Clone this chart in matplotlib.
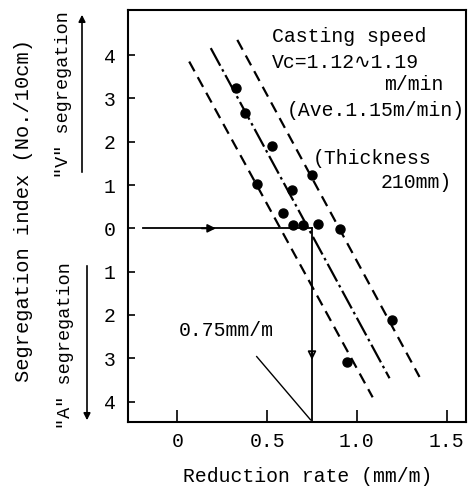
import matplotlib
matplotlib.use("Agg")
import matplotlib.pyplot as plt

# data points (reduction rate, segregation index; positive = "V", negative = "A")
rate = [0.325, 0.377, 0.525, 0.442, 0.636, 0.749, 0.588, 0.645, 0.699, 0.784, 0.908, 1.195, 0.947]
seg = [3.23, 2.66, 1.90, 1.02, 0.88, 1.23, 0.35, 0.08, 0.08, 0.11, -0.02, -2.12, -3.08]

# band lines (endpoints)
lower_x = [0.066, 1.088]
lower_y = [3.85, -3.90]
mid_x = [0.186, 1.182]
mid_y = [4.16, -3.46]
upper_x = [0.334, 1.349]
upper_y = [4.35, -3.43]

critical_rate = 0.75
x_ticks = [0, 0.5, 1.0, 1.5]
x_ticklabels = ["0", "0.5", "1.0", "1.5"]
y_ticks = [4, 3, 2, 1, 0, -1, -2, -3, -4]
y_ticklabels = ["4", "3", "2", "1", "0", "1", "2", "3", "4"]

W, H = 468, 486
fig = plt.figure(figsize=(W / 100, H / 100), dpi=100)
FONT = ["Liberation Mono", "DejaVu Sans Mono", "DejaVu Sans"]
FS = 14.2

x0, x1 = -0.275, 1.608
y0, y1 = -4.47, 5.04
ax = fig.add_axes([128 / W, 1 - 422 / H, (466 - 128) / W, (422 - 10) / H])
ax.set_xlim(x0, x1)
ax.set_ylim(y0, y1)

for s in ax.spines.values():
    s.set_linewidth(1.5)

ax.set_xticks(x_ticks)
ax.set_xticklabels(x_ticklabels, family=FONT, fontsize=FS)
ax.set_yticks(y_ticks)
ax.set_yticklabels(y_ticklabels, family=FONT, fontsize=FS)
ax.tick_params(axis="x", direction="in", length=9, width=1.2, pad=7, top=False)
ax.tick_params(axis="y", direction="in", length=5, width=1.2, pad=9, right=False)

# band lines
ax.plot(lower_x, lower_y, color="black", lw=1.6, dashes=(5, 3))
ax.plot(upper_x, upper_y, color="black", lw=1.6, dashes=(5, 3))
ax.plot(mid_x, mid_y, color="black", lw=1.6, dashes=(9, 1.8, 1.2, 1.8))

# points
ax.plot(rate, seg, "o", color="black", ms=6.5, zorder=5)

# guide arrows
ax.plot([-0.193, critical_rate], [0, 0], color="black", lw=1.3)
ax.plot([critical_rate, critical_rate], [0, y0], color="black", lw=1.3)
ax.annotate("", xy=(0.23, 0), xytext=(0.12, 0),
            arrowprops=dict(arrowstyle="-|>", color="black", lw=1.3, mutation_scale=12))
ax.annotate("", xy=(critical_rate, -3.1), xytext=(critical_rate, -2.8),
            arrowprops=dict(arrowstyle="-|>", color="black", lw=1.3, mutation_scale=12,
                            fill=False))

ax.text(0.01, -2.35, "0.75mm/m", family=FONT, fontsize=FS, va="center", ha="left")
ax.plot([0.442, 0.742], [-2.96, -4.42], color="black", lw=1.0)

# text block
def ftxt(x, y, s, ha="left"):
    fig.text(x / W, 1 - y / H, s, family=FONT, fontsize=FS, ha=ha, va="center")

ftxt(272, 37, "Casting speed")
ftxt(272, 62, "Vc=1.12\u223f1.19")
ftxt(443, 85, "m/min", ha="right")
ftxt(287, 110, "(Ave.1.15m/min)")
ftxt(313, 158, "(Thickness")
ftxt(452, 182, "210mm)", ha="right")

# axis labels
fig.text(308 / W, 1 - 476 / H, "Reduction rate (mm/m)", family=FONT, fontsize=FS,
         ha="center", va="center")
fig.text(24 / W, 1 - 210 / H, "Segregation index (No./10cm)", family=FONT, fontsize=14.7,
         ha="center", va="center", rotation=90)
fig.text(64 / W, 1 - 95 / H, '"V" segregation', family=FONT, fontsize=13.3,
         ha="center", va="center", rotation=90)
fig.text(65 / W, 1 - 346 / H, '"A" segregation', family=FONT, fontsize=13.3,
         ha="center", va="center", rotation=90)

# side arrows
fig.add_artist(matplotlib.patches.FancyArrowPatch(
    (82 / W, 1 - 175 / H), (82 / W, 1 - 12 / H), transform=fig.transFigure,
    arrowstyle="-|>", mutation_scale=10, color="black", lw=1.2))
fig.add_artist(matplotlib.patches.FancyArrowPatch(
    (87 / W, 1 - 263 / H), (87 / W, 1 - 423 / H), transform=fig.transFigure,
    arrowstyle="-|>", mutation_scale=10, color="black", lw=1.2))

fig.savefig("out.png", dpi=100)
